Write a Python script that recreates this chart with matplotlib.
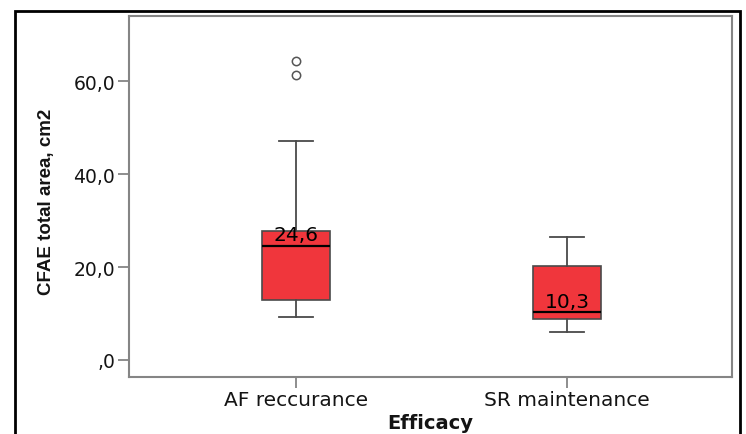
import matplotlib
matplotlib.use("Agg")
import matplotlib.pyplot as plt
from matplotlib.lines import Line2D

# Group names and five-number summaries (CFAE total area, cm2)
groups = ["AF reccurance", "SR maintenance"]
whisker_low = [9.2, 6.0]
q1 = [12.9, 8.8]
median = [24.6, 10.3]
q3 = [27.7, 20.2]
whisker_high = [47.1, 26.4]
outliers = [[61.3, 64.3], []]

y_ticks = [0, 20, 40, 60]
y_tick_labels = [",0", "20,0", "40,0", "60,0"]

box_color = "#F0363C"
edge_color = "#4A4A4A"
axis_color = "#858585"
text_color = "#141414"

fig = plt.figure(figsize=(7.46, 4.35), dpi=100)
ax = fig.add_axes([0.1729, 0.131, 0.8083, 0.830])

stats = []
for i, name in enumerate(groups):
    stats.append(dict(label=name, whislo=whisker_low[i], q1=q1[i], med=median[i],
                      q3=q3[i], whishi=whisker_high[i], fliers=outliers[i]))

positions = [1, 2]
ax.bxp(stats, positions=positions, widths=0.25, patch_artist=True,
       boxprops=dict(facecolor=box_color, edgecolor=edge_color, linewidth=1.2),
       medianprops=dict(color="black", linewidth=1.6),
       whiskerprops=dict(color=edge_color, linewidth=1.3),
       capprops=dict(color=edge_color, linewidth=1.3),
       capwidths=0.125,
       flierprops=dict(marker="o", markersize=6, markerfacecolor="white",
                       markeredgecolor="#555555", markeredgewidth=1.1))

# Median value labels sitting on top of each median line
for pos, m in zip(positions, median):
    ax.annotate(f"{m:.1f}".replace(".", ","), xy=(pos, m), xytext=(0, 1),
                textcoords="offset points", ha="center", va="bottom",
                fontsize=14.5, color="black")

ax.set_xlim(0.384, 2.609)
ax.set_ylim(-3.66, 74.0)
ax.set_yticks(y_ticks)
ax.set_yticklabels(y_tick_labels, fontsize=13.5, color=text_color)
ax.set_xticks(positions)
ax.set_xticklabels(groups, fontsize=14.5, color=text_color)
ax.tick_params(axis="both", direction="out", length=8, width=1.3, color=axis_color, pad=2)
ax.tick_params(axis="x", pad=1)

for side in ax.spines.values():
    side.set_color(axis_color)
    side.set_linewidth(1.5)

ax.set_xlabel("Efficacy", fontsize=14, fontweight="bold", labelpad=3, color=text_color)
ax.set_ylabel("CFAE total area, cm2", family=["Liberation Sans", "DejaVu Sans"],
              fontsize=13.5, fontweight="bold", color=text_color)
ax.yaxis.set_label_coords(-0.122, 0.4875)

# Outer black frame (open at the bottom)
x0, x1 = 15 / 746, 740 / 746
y_top = 1 - 12 / 435
frame = Line2D([x0, x0, x1, x1], [0, y_top, y_top, 0], transform=fig.transFigure,
               color="black", linewidth=2.0, solid_joinstyle="miter")
fig.add_artist(frame)

fig.savefig("out.png", dpi=100)
